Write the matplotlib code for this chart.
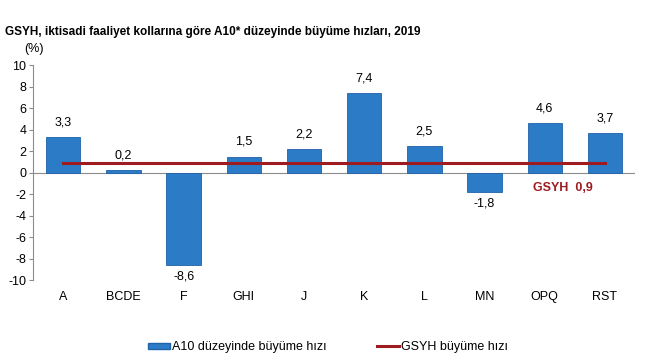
import numpy as np
import matplotlib
matplotlib.use('Agg')
import matplotlib.pyplot as plt
from matplotlib.lines import Line2D
from matplotlib.patches import Patch

plt.rcParams['font.family'] = ['Liberation Sans', 'DejaVu Sans']
plt.rcParams['axes.unicode_minus'] = False

categories = ['A', 'BCDE', 'F', 'GHI', 'J', 'K', 'L', 'MN', 'OPQ', 'RST']
growth = [3.3, 0.2, -8.6, 1.5, 2.2, 7.4, 2.5, -1.8, 4.6, 3.7]
gdp_growth = 0.9

bar_color = '#2B7BC6'
line_color = '#9E1B20'

fig = plt.figure(figsize=(6.5, 3.6), dpi=100)
ax = fig.add_axes([0.051, 0.222, 0.926, 0.597])

x = np.arange(len(categories))
ax.bar(x, growth, width=0.57, color=bar_color, edgecolor='#1F63A8', linewidth=0.6, zorder=2)
ax.plot([x[0], x[-1]], [gdp_growth, gdp_growth], color=line_color, linewidth=2.2, zorder=3)

for xi, v in zip(x, growth):
    label = f'{v:.1f}'.replace('.', ',')
    if v >= 0:
        ax.text(xi, v + 0.8, label, ha='center', va='bottom', fontsize=9, zorder=4)
    else:
        ax.text(xi, v - 0.5, label, ha='center', va='top', fontsize=9, zorder=4)

ax.text(8.3, -1.4, 'GSYH  ' + f'{gdp_growth:.1f}'.replace('.', ','), color=line_color,
        fontsize=9, fontweight='bold', ha='center', va='center')

ax.axhline(0, color='#8C8C8C', linewidth=0.8, zorder=1)
ax.set_xlim(-0.5, len(categories) - 0.5)
ax.set_ylim(-10, 10)
ax.set_yticks(np.arange(-10, 11, 2))
ax.set_xticks(x)
ax.set_xticklabels(categories, fontsize=9)
ax.tick_params(axis='x', length=0, pad=8)
ax.tick_params(axis='y', labelsize=9, length=3, color='#8C8C8C', pad=2)
for s in ['top', 'right', 'bottom']:
    ax.spines[s].set_visible(False)
ax.spines['left'].set_color('#8C8C8C')
ax.spines['left'].set_linewidth(0.8)

fig.text(0.008, 0.91, 'GSYH, iktisadi faaliyet kollarına göre A10* düzeyinde büyüme hızları, 2019',
         fontsize=8.5, fontweight='bold', ha='left', va='center')
fig.text(0.038, 0.865, '(%)', fontsize=9, ha='left', va='center')

handles = [Patch(facecolor=bar_color, edgecolor='#1F63A8'),
           Line2D([0], [0], color=line_color, linewidth=2.2)]
fig.legend(handles, ['A10 düzeyinde büyüme hızı', 'GSYH büyüme hızı'],
           loc='center left', bbox_to_anchor=(0.21, 0.035), ncol=2, frameon=False,
           fontsize=9, handlelength=1.8, handleheight=0.45, handletextpad=0.15,
           columnspacing=4.0)

fig.savefig('out.png', dpi=100)
